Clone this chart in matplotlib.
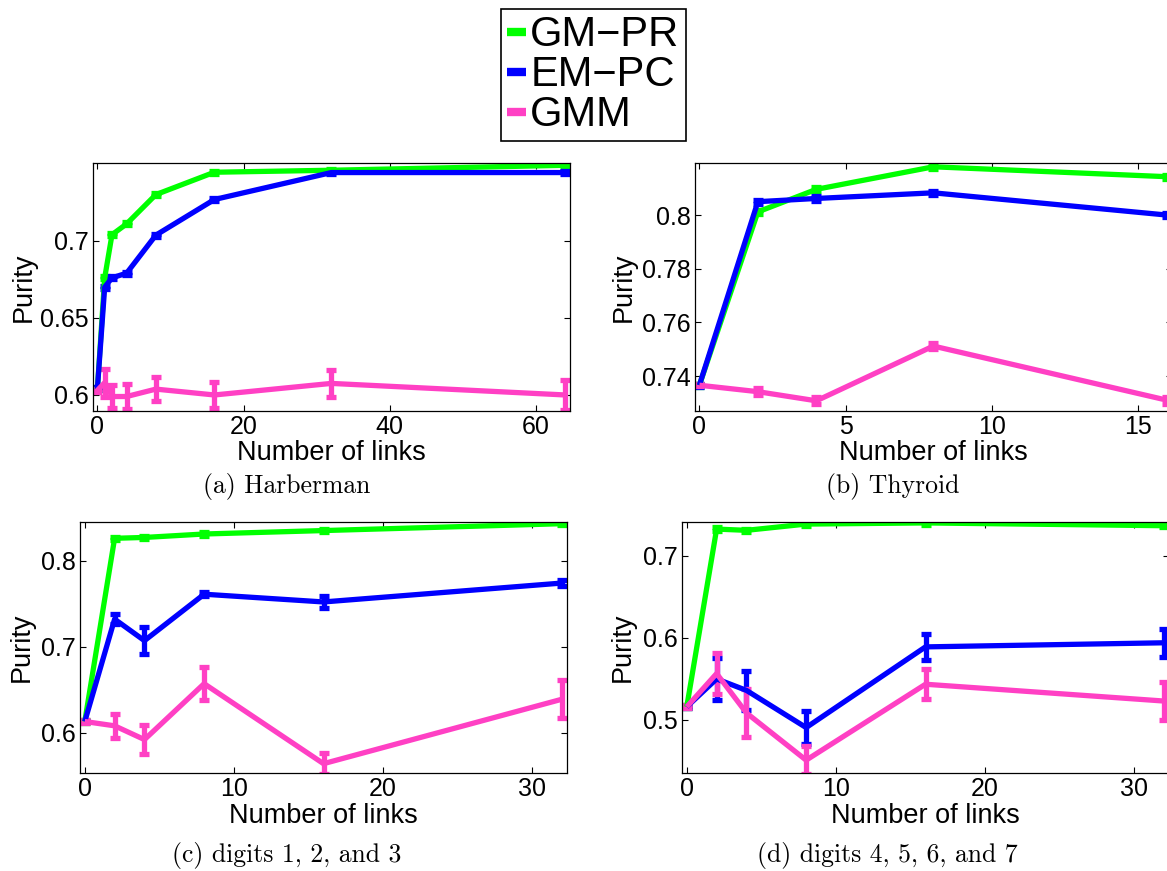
import matplotlib
matplotlib.use("Agg")
import matplotlib.pyplot as plt
from matplotlib.lines import Line2D
from matplotlib.ticker import FuncFormatter, FixedLocator

plt.rcParams['font.family'] = ['Liberation Sans', 'DejaVu Sans']

series_names = ["GM\u2212PR", "EM\u2212PC", "GMM"]
series_colors = ["#00ff00", "#0000ff", "#ff40c4"]

# (a) Harberman
links_a = [0, 1, 2, 4, 8, 16, 32, 64]
gmpr_a = [0.604, 0.676, 0.704, 0.711, 0.730, 0.7445, 0.7458, 0.749]
gmpr_a_err = [0.001, 0.001, 0.001, 0.001, 0.001, 0.001, 0.001, 0.001]
empc_a = [0.604, 0.670, 0.676, 0.679, 0.7037, 0.7268, 0.7443, 0.7443]
empc_a_err = [0.001, 0.001, 0.001, 0.001, 0.001, 0.001, 0.001, 0.001]
gmm_a = [0.603, 0.608, 0.599, 0.599, 0.6038, 0.600, 0.6075, 0.600]
gmm_a_err = [0.001, 0.009, 0.0075, 0.008, 0.008, 0.0085, 0.009, 0.010]

# (b) Thyroid
links_b = [0, 2, 4, 8, 16]
gmpr_b = [0.7366, 0.8012, 0.8096, 0.818, 0.8143]
gmpr_b_err = [0.0006, 0.0008, 0.0008, 0.0008, 0.0008]
empc_b = [0.7366, 0.805, 0.8062, 0.8083, 0.800]
empc_b_err = [0.0006, 0.0008, 0.0008, 0.0008, 0.0008]
gmm_b = [0.7366, 0.7342, 0.7308, 0.7512, 0.731]
gmm_b_err = [0.0004, 0.0012, 0.0013, 0.0011, 0.0013]

# (c) digits 1, 2, and 3
links_c = [0, 2, 4, 8, 16, 32]
gmpr_c = [0.613, 0.826, 0.827, 0.831, 0.835, 0.843]
gmpr_c_err = [0.002, 0.002, 0.002, 0.002, 0.002, 0.002]
empc_c = [0.613, 0.732, 0.707, 0.761, 0.752, 0.774]
empc_c_err = [0.001, 0.006, 0.016, 0.002, 0.007, 0.003]
gmm_c = [0.613, 0.608, 0.592, 0.657, 0.564, 0.639]
gmm_c_err = [0.002, 0.014, 0.0165, 0.019, 0.012, 0.022]

# (d) digits 4, 5, 6, and 7
links_d = [0, 2, 4, 8, 16, 32]
gmpr_d = [0.516, 0.7325, 0.731, 0.7386, 0.740, 0.7366]
gmpr_d_err = [0.002, 0.002, 0.002, 0.002, 0.002, 0.002]
empc_d = [0.516, 0.550, 0.536, 0.4907, 0.589, 0.594]
empc_d_err = [0.001, 0.026, 0.024, 0.020, 0.016, 0.017]
gmm_d = [0.516, 0.5565, 0.5085, 0.451, 0.5435, 0.523]
gmm_d_err = [0.002, 0.025, 0.029, 0.017, 0.018, 0.023]

xticks_a = [0, 20, 40, 60]
xticks_b = [0, 5, 10, 15]
xticks_cd = [0, 10, 20, 30]
yticks_a = [0.6, 0.65, 0.7]
yticks_b = [0.74, 0.76, 0.78, 0.8]
yticks_c = [0.6, 0.7, 0.8]
yticks_d = [0.5, 0.6, 0.7]

captions = ["(a) Harberman", "(b) Thyroid", "(c) digits 1, 2, and 3",
            "(d) digits 4, 5, 6, and 7"]

W, H = 1167, 871
fig = plt.figure(figsize=(W / 100, H / 100), dpi=100)


def px_rect(left, top, width, height):
    return [left / W, 1 - (top + height) / H, width / W, height / H]


panels = [
    dict(rect=px_rect(92.7, 163.3, 477.3, 247.7), x=links_a,
         ys=[(gmpr_a, gmpr_a_err), (empc_a, empc_a_err), (gmm_a, gmm_a_err)],
         ylim=(0.5896, 0.7503), xticks=xticks_a, yticks=yticks_a,
         ylab_x=-0.118, xlab_y=-0.116),
    dict(rect=px_rect(694.7, 163.3, 477.3, 247.7), x=links_b,
         ys=[(gmpr_b, gmpr_b_err), (empc_b, empc_b_err), (gmm_b, gmm_b_err)],
         ylim=(0.727, 0.8193), xticks=xticks_b, yticks=yticks_b,
         ylab_x=-0.122, xlab_y=-0.116),
    dict(rect=px_rect(80.0, 521.7, 487.0, 251.6), x=links_c,
         ys=[(gmpr_c, gmpr_c_err), (empc_c, empc_c_err), (gmm_c, gmm_c_err)],
         ylim=(0.5528, 0.8453), xticks=xticks_cd, yticks=yticks_c,
         ylab_x=-0.092, xlab_y=-0.12),
    dict(rect=px_rect(682.0, 521.7, 487.0, 251.6), x=links_d,
         ys=[(gmpr_d, gmpr_d_err), (empc_d, empc_d_err), (gmm_d, gmm_d_err)],
         ylim=(0.435, 0.7415), xticks=xticks_cd, yticks=yticks_d,
         ylab_x=-0.094, xlab_y=-0.12),
]

fmt = FuncFormatter(lambda v, pos: "%g" % round(v, 4))

for p in panels:
    ax = fig.add_axes(p["rect"])
    for (vals, errs), color in zip(p["ys"], series_colors):
        ax.errorbar(p["x"], vals, yerr=errs, color=color, lw=3.8,
                    elinewidth=3.8, capsize=3.4, capthick=3.8,
                    solid_capstyle='butt')
    span = max(p["x"]) - min(p["x"])
    ax.set_xlim(min(p["x"]) - span / 100, max(p["x"]) + span / 100)
    ax.set_ylim(*p["ylim"])
    ax.xaxis.set_major_locator(FixedLocator(p["xticks"]))
    ax.yaxis.set_major_locator(FixedLocator(p["yticks"]))
    ax.yaxis.set_major_formatter(fmt)
    ax.xaxis.set_major_formatter(fmt)
    ax.tick_params(direction='in', top=True, right=True, length=4.5,
                   width=0.8, labelsize=18, pad=3)
    for s in ax.spines.values():
        s.set_linewidth(0.9)
    ax.set_xlabel("Number of links", fontsize=19.5)
    ax.set_ylabel("Purity", fontsize=19.5)
    ax.xaxis.set_label_coords(0.5, p["xlab_y"])
    ax.yaxis.set_label_coords(p["ylab_x"], 0.5)

caption_pos = [(287, 486), (893, 486), (287, 855), (887, 855)]
for text, (cx, cy) in zip(captions, caption_pos):
    fig.text(cx / W, 1 - cy / H, text, ha='center', va='center',
             fontsize=18.5, family='cmr10')

handles = [Line2D([], [], color=c, lw=6, solid_capstyle='butt')
           for c in series_colors]
leg = fig.legend(handles, series_names, loc='upper left',
                 bbox_to_anchor=(501 / W, 1 - 9 / H), fontsize=30,
                 handlelength=0.45, handletextpad=0.1, labelspacing=0.0,
                 borderpad=0.15, borderaxespad=0, fancybox=False,
                 framealpha=1, edgecolor='black')
leg.get_frame().set_linewidth(1.2)

fig.savefig("out.png", dpi=100)
